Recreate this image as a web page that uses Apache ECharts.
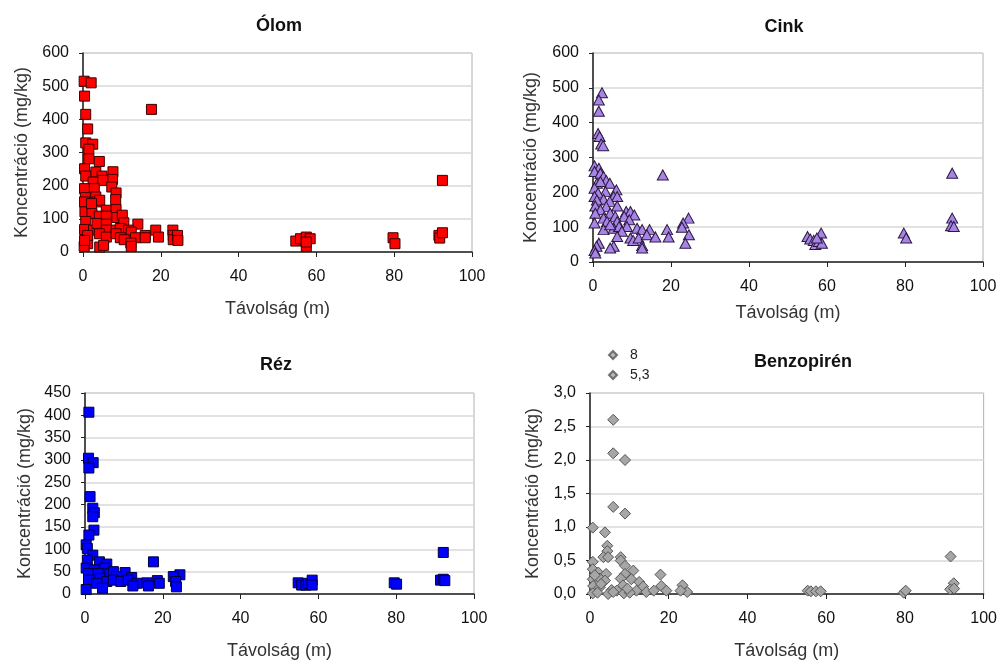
<!DOCTYPE html>
<html>
<head>
<meta charset="utf-8">
<script src="https://cdn.jsdelivr.net/npm/echarts@6/dist/echarts.min.js"></script>
<style>
  html, body { margin: 0; padding: 0; background: #fff; }
  #chart { width: 1000px; height: 661px; }
</style>
</head>
<body>
<div id="chart"></div>
<script>
// Sampled concentrations: [distance from road (m), concentration (mg/kg)]
const olom = [
  [0.3,515],[2.1,510],[0.4,470],[0.7,415],[1.2,371],[17.6,430],[0.7,329],[2.5,325],[1.5,310],[1.5,281],
  [4.2,273],[0.4,251],[3.3,241],[7.7,242],[0.7,229],[4.9,229],[7.6,219],[2.6,211],[5.1,216],[0.4,191],
  [2.9,191],[7.4,196],[8.5,178],[0.6,164],[3.3,166],[8.4,158],[0.4,151],[3.6,151],[4.3,156],[0.5,121],
  [2.3,116],[6.0,126],[8.5,128],[0.7,92],[4.2,108],[6.0,108],[8.7,104],[10.1,111],[10.5,88],[14.1,84],
  [0.4,68],[2.7,66],[3.6,86],[6.0,84],[6.0,66],[8.6,66],[9.6,71],[11.7,66],[12.4,60],[18.7,66],
  [23.1,66],[4.2,55],[6.0,45],[8.5,55],[9.6,43],[10.6,37],[13.5,43],[16.0,50],[16.0,43],[19.4,45],
  [23.2,50],[23.2,37],[24.3,50],[24.4,35],[1.2,25],[0.3,17],[4.3,15],[12.3,27],[12.4,17],[54.7,33],
  [55.9,40],[57.4,45],[58.4,40],[57.4,17],[57.4,30],[79.7,43],[80.2,25],[91.5,50],[91.7,42],[92.4,58],
  [92.4,216],[2.2,146],[1.2,50],[0.4,35],[5.3,20]
];
const cink = [
  [2.3,486],[1.5,465],[1.5,433],[1.3,369],[1.7,360],[2.1,339],[2.6,334],[17.9,250],[92.1,255],[0.4,276],
  [1.5,269],[0.4,260],[1.9,255],[2.7,245],[3.4,234],[4.3,226],[1.0,226],[1.9,231],[0.4,212],[6.0,207],
  [3.2,202],[1.3,198],[0.4,188],[5.3,188],[6.2,188],[2.7,180],[1.0,178],[4.3,174],[0.6,161],[6.2,161],
  [3.4,159],[1.9,150],[8.5,145],[9.6,145],[0.6,140],[4.4,140],[10.6,135],[8.0,131],[5.7,131],[2.7,126],
  [24.5,126],[3.6,116],[0.4,112],[6.2,116],[9.3,121],[23.1,112],[8.7,102],[22.8,100],[92.1,126],[91.8,104],
  [92.5,102],[11.3,97],[12.6,93],[14.5,93],[19.0,93],[2.7,93],[5.3,97],[6.7,102],[4.4,107],[7.4,88],
  [9.6,69],[10.3,62],[11.7,69],[13.8,78],[16.0,72],[19.4,72],[24.6,78],[6.2,73],[79.7,83],[80.3,69],
  [55.0,73],[55.7,66],[56.6,62],[57.0,50],[57.9,59],[58.5,83],[58.7,54],[57.4,69],[23.7,54],[1.5,54],
  [12.6,47],[12.6,40],[5.3,45],[4.4,40],[0.9,45],[0.4,33],[0.6,26]
];
const rez = [
  [1.0,407],[0.9,304],[2.1,294],[1.0,282],[1.3,218],[2.0,192],[2.4,182],[2.0,173],[2.3,143],[1.0,132],
  [17.6,72],[92.1,93],[0.3,110],[0.6,102],[2.0,87],[0.6,76],[3.7,72],[5.6,67],[0.3,58],[2.4,54],
  [5.1,58],[0.9,46],[3.4,46],[3.9,35],[6.4,46],[7.3,50],[10.3,48],[8.1,39],[12.0,37],[24.4,43],
  [22.7,39],[0.9,31],[3.0,24],[5.6,28],[7.3,31],[9.2,28],[11.1,31],[13.3,24],[15.9,25],[18.6,30],
  [19.1,24],[23.3,28],[12.3,18],[16.3,18],[23.5,16],[4.5,13],[0.3,10],[54.8,25],[55.7,20],[56.8,20],
  [57.4,24],[58.4,31],[58.4,20],[79.5,25],[80.1,22],[91.4,31],[92.1,33],[92.5,30]
];
const benzopiren = [
  [5.9,2.60],[5.9,2.10],[8.9,2.00],[5.9,1.30],[8.9,1.20],[0.7,0.99],[3.8,0.92],[4.4,0.72],[4.4,0.64],[3.4,0.55],
  [4.6,0.55],[7.8,0.55],[7.8,0.50],[91.6,0.56],[0.7,0.48],[8.9,0.42],[0.7,0.37],[2.1,0.32],[4.1,0.30],[11.0,0.35],
  [8.9,0.30],[17.9,0.29],[0.7,0.22],[2.5,0.23],[3.8,0.20],[7.8,0.23],[10.5,0.22],[12.5,0.18],[92.4,0.16],[0.8,0.12],
  [2.5,0.10],[8.4,0.13],[13.5,0.11],[18.1,0.12],[23.5,0.13],[91.5,0.07],[92.5,0.08],[5.5,0.06],[6.8,0.05],[11.8,0.05],
  [14.3,0.03],[16.2,0.05],[19.4,0.05],[24.7,0.03],[0.7,0.01],[4.6,0.00],[8.6,0.01],[55.3,0.05],[56.1,0.04],[57.4,0.04],
  [58.6,0.04],[79.7,0.02],[80.2,0.05],[1.9,0.02],[5.9,0.03],[10.1,0.02],[1.2,0.28],[2.8,0.15],[9.5,0.08],[23.0,0.05]
];
// Off-scale benzopyrene samples, listed by value in the legend
const benzoHigh1 = [[3.0, 8]];
const benzoHigh2 = [[4.0, 5.3]];

const panelTitles = ['Ólom', 'Cink', 'Réz', 'Benzopirén'];
const yRanges = [[0, 600, 100], [0, 600, 100], [0, 450, 50], [0, 3, 0.5]];
const xRange = [0, 100, 20];
const xName = 'Távolság (m)';
const yName = 'Koncentráció (mg/kg)';

const font = '"Liberation Sans", Arial, sans-serif';
const grids = [
  { left: 83,  top: 53,  width: 389, height: 199 },
  { left: 593, top: 53,  width: 390, height: 209 },
  { left: 85,  top: 393, width: 389, height: 201 },
  { left: 590, top: 393, width: 395, height: 202 }
];
const xNameGaps = [48, 42, 48, 48];
const yNameGaps = [52, 53, 51, 48];
const titlePos = [[274, 12], [779, 13], [271, 351], [798, 348]];

const xAxes = grids.map((g, i) => ({
  type: 'value', gridIndex: i, min: xRange[0], max: xRange[1], interval: xRange[2],
  name: xName, nameLocation: 'middle', nameGap: xNameGaps[i],
  nameTextStyle: { fontFamily: font, fontSize: 18, color: '#333' },
  axisLine: { show: true, onZero: false, lineStyle: { color: '#222', width: 1.5 } },
  axisTick: { show: true, inside: false, length: 5, lineStyle: { color: '#222' } },
  axisLabel: { fontFamily: font, fontSize: 16, color: '#111', margin: 17 },
  splitLine: { show: false }
}));

const yAxes = grids.map((g, i) => ({
  type: 'value', gridIndex: i, min: yRanges[i][0], max: yRanges[i][1], interval: yRanges[i][2],
  name: yName, nameLocation: 'middle', nameGap: yNameGaps[i],
  nameTextStyle: { fontFamily: font, fontSize: 18, color: '#333' },
  axisLine: { show: true, onZero: false, lineStyle: { color: '#222', width: 1.5 } },
  axisTick: { show: true, inside: false, length: 4, lineStyle: { color: '#222' } },
  axisLabel: {
    fontFamily: font, fontSize: 16, color: '#111', margin: 14,
    formatter: i === 3 ? (v => v.toFixed(1).replace('.', ',')) : (v => String(v))
  },
  splitLine: { show: true, lineStyle: { color: '#d8d8d8', width: 1.5 } }
}));

const titles = panelTitles.map((t, i) => ({
  text: t, left: titlePos[i][0], top: titlePos[i][1], textAlign: 'center',
  textStyle: { fontFamily: font, fontSize: 18, fontWeight: 'bold', color: '#111' }
}));

const option = {
  animation: false,
  backgroundColor: '#ffffff',
  title: titles,
  grid: grids.map(g => Object.assign({ show: true, borderColor: '#b0b0b0', borderWidth: 1, backgroundColor: 'transparent' }, g)),
  xAxis: xAxes,
  yAxis: yAxes,
  legend: {
    data: ['8', '5,3'], orient: 'vertical', left: 603, top: 343,
    itemWidth: 8, itemHeight: 8, itemGap: 6,
    textStyle: { fontFamily: font, fontSize: 14, color: '#222', padding: [0, 0, 0, 8] }
  },
  series: [
    { type: 'scatter', name: 'Ólom', xAxisIndex: 0, yAxisIndex: 0, data: olom,
      symbol: 'rect', symbolSize: 10,
      itemStyle: { color: '#ff0000', borderColor: '#3a0000', borderWidth: 1, opacity: 1 } },
    { type: 'scatter', name: 'Cink', xAxisIndex: 1, yAxisIndex: 1, data: cink,
      symbol: 'triangle', symbolSize: [11, 10],
      itemStyle: { color: '#a884e6', borderColor: '#2a1a40', borderWidth: 1, opacity: 1 } },
    { type: 'scatter', name: 'Réz', xAxisIndex: 2, yAxisIndex: 2, data: rez,
      symbol: 'rect', symbolSize: 10,
      itemStyle: { color: '#0000ff', borderColor: '#00003a', borderWidth: 1, opacity: 1 } },
    { type: 'scatter', name: 'Benzopirén', xAxisIndex: 3, yAxisIndex: 3, data: benzopiren,
      symbol: 'diamond', symbolSize: 11,
      itemStyle: { color: '#a6a6a6', borderColor: '#555555', borderWidth: 1, opacity: 1 } },
    { type: 'scatter', name: '8', xAxisIndex: 3, yAxisIndex: 3, data: benzoHigh1, clip: true,
      symbol: 'diamond', symbolSize: 9,
      itemStyle: { color: '#a6a6a6', borderColor: '#555555', borderWidth: 1 } },
    { type: 'scatter', name: '5,3', xAxisIndex: 3, yAxisIndex: 3, data: benzoHigh2, clip: true,
      symbol: 'diamond', symbolSize: 9,
      itemStyle: { color: '#a6a6a6', borderColor: '#555555', borderWidth: 1 } }
  ]
};

const chart = echarts.init(document.getElementById('chart'), null, { renderer: 'canvas' });
chart.setOption(option);
</script>
</body>
</html>
